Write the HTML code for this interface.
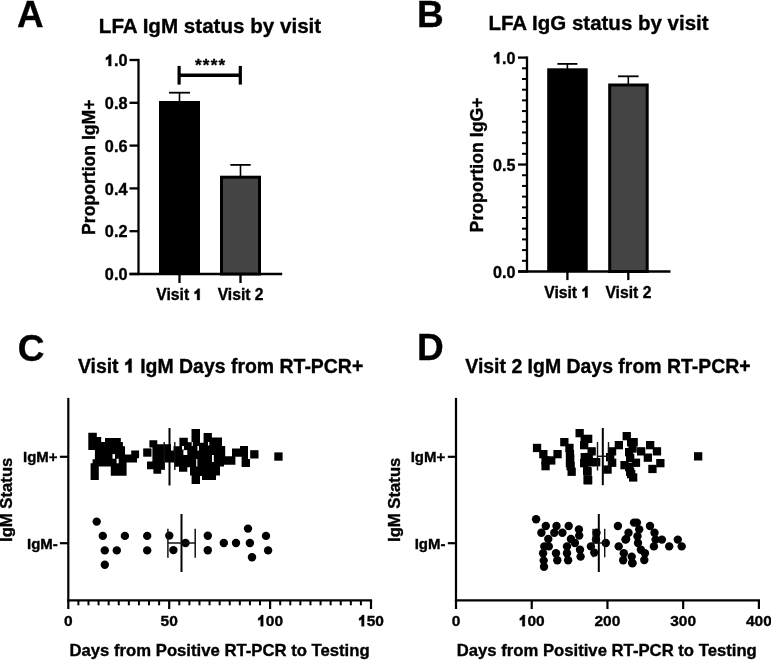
<!DOCTYPE html>
<html><head><meta charset="utf-8"><style>
html,body{margin:0;padding:0;background:#fff;width:771px;height:661px;overflow:hidden}
svg{display:block;filter:grayscale(1)}
text .one{fill:transparent;stroke:none}
text{font-family:"Liberation Sans",sans-serif;font-weight:bold;fill:#000;stroke:#000;stroke-width:0.35px}
</style></head><body>
<svg width="771" height="661" viewBox="0 0 771 661">
<rect width="771" height="661" fill="#fff"/>
<text x="17" y="27" font-size="36.8" text-anchor="start" >A</text>
<text x="417.1" y="27.2" font-size="37" text-anchor="start" >B</text>
<text x="17.8" y="360.7" font-size="37" text-anchor="start" >C</text>
<text x="416.9" y="360.3" font-size="37" text-anchor="start" >D</text>
<text x="98.8" y="32.5" font-size="20.6" text-anchor="start" >LFA IgM status by visit</text>
<text x="488.4" y="30" font-size="20.5" text-anchor="start" >LFA IgG status by visit</text>
<text x="77.9" y="372.6" font-size="19.45" text-anchor="start" >Visit <tspan class="one" id="one1">1</tspan> IgM Days from RT-PCR+</text>
<text x="465.3" y="372.7" font-size="19.45" text-anchor="start" >Visit 2 IgM Days from RT-PCR+</text>
<line x1="138.5" y1="58.9" x2="138.5" y2="275.1" stroke="#000" stroke-width="2.3"/>
<line x1="129.5" y1="274" x2="282.2" y2="274" stroke="#000" stroke-width="2.3"/>
<line x1="129.5" y1="274.0" x2="138.5" y2="274.0" stroke="#000" stroke-width="2.3"/>
<text x="127.5" y="280.1" font-size="16.3" text-anchor="end" >0.0</text>
<line x1="129.5" y1="231.2" x2="138.5" y2="231.2" stroke="#000" stroke-width="2.3"/>
<text x="127.5" y="237.29999999999998" font-size="16.3" text-anchor="end" >0.2</text>
<line x1="129.5" y1="188.4" x2="138.5" y2="188.4" stroke="#000" stroke-width="2.3"/>
<text x="127.5" y="194.5" font-size="16.3" text-anchor="end" >0.4</text>
<line x1="129.5" y1="145.6" x2="138.5" y2="145.6" stroke="#000" stroke-width="2.3"/>
<text x="127.5" y="151.7" font-size="16.3" text-anchor="end" >0.6</text>
<line x1="129.5" y1="102.80000000000001" x2="138.5" y2="102.80000000000001" stroke="#000" stroke-width="2.3"/>
<text x="127.5" y="108.9" font-size="16.3" text-anchor="end" >0.8</text>
<line x1="129.5" y1="60.0" x2="138.5" y2="60.0" stroke="#000" stroke-width="2.3"/>
<text x="127.5" y="66.1" font-size="16.3" text-anchor="end" ><tspan class="one" id="one2">1</tspan>.0</text>
<line x1="179.5" y1="274" x2="179.5" y2="283" stroke="#000" stroke-width="2.3"/>
<line x1="240.5" y1="274" x2="240.5" y2="283" stroke="#000" stroke-width="2.3"/>
<text x="179.3" y="300" font-size="15.7" text-anchor="middle" >Visit <tspan class="one" id="one3">1</tspan></text>
<text x="240.6" y="300" font-size="15.7" text-anchor="middle" >Visit 2</text>
<rect x="159" y="101" width="41" height="173" fill="#000"/>
<rect x="221.5" y="177.2" width="38" height="96.80000000000001" fill="#444" stroke="#000" stroke-width="3"/>
<line x1="179.5" y1="92.7" x2="179.5" y2="101" stroke="#000" stroke-width="1.6"/>
<line x1="169" y1="92.7" x2="190" y2="92.7" stroke="#000" stroke-width="1.8"/>
<line x1="240.5" y1="164.9" x2="240.5" y2="176" stroke="#000" stroke-width="1.6"/>
<line x1="230.3" y1="164.9" x2="250.7" y2="164.9" stroke="#000" stroke-width="1.8"/>
<line x1="179.1" y1="65.9" x2="179.1" y2="84.6" stroke="#000" stroke-width="3.2"/>
<line x1="240.3" y1="65.9" x2="240.3" y2="84.6" stroke="#000" stroke-width="3.2"/>
<line x1="179.1" y1="75.3" x2="240.3" y2="75.3" stroke="#000" stroke-width="3.4"/>
<text x="195" y="71.4" font-size="17" text-anchor="start" letter-spacing="1.2">****</text>
<text transform="translate(95.4,234.9) rotate(-90)" font-size="17.6" text-anchor="start" >Proportion IgM+</text>
<line x1="527" y1="56.5" x2="527" y2="272.6" stroke="#000" stroke-width="2.3"/>
<line x1="518.2" y1="271.5" x2="670.5" y2="271.5" stroke="#000" stroke-width="2.3"/>
<line x1="518" y1="271.5" x2="527" y2="271.5" stroke="#000" stroke-width="2.3"/>
<text x="515.4" y="277.5" font-size="16.1" text-anchor="end" >0.0</text>
<line x1="522" y1="260.805" x2="527" y2="260.805" stroke="#000" stroke-width="2.0"/>
<line x1="522" y1="250.11" x2="527" y2="250.11" stroke="#000" stroke-width="2.0"/>
<line x1="522" y1="239.415" x2="527" y2="239.415" stroke="#000" stroke-width="2.0"/>
<line x1="522" y1="228.72" x2="527" y2="228.72" stroke="#000" stroke-width="2.0"/>
<line x1="522" y1="218.025" x2="527" y2="218.025" stroke="#000" stroke-width="2.0"/>
<line x1="522" y1="207.32999999999998" x2="527" y2="207.32999999999998" stroke="#000" stroke-width="2.0"/>
<line x1="522" y1="196.635" x2="527" y2="196.635" stroke="#000" stroke-width="2.0"/>
<line x1="522" y1="185.94" x2="527" y2="185.94" stroke="#000" stroke-width="2.0"/>
<line x1="522" y1="175.245" x2="527" y2="175.245" stroke="#000" stroke-width="2.0"/>
<line x1="518" y1="164.55" x2="527" y2="164.55" stroke="#000" stroke-width="2.3"/>
<text x="515.4" y="170.55" font-size="16.1" text-anchor="end" >0.5</text>
<line x1="522" y1="153.855" x2="527" y2="153.855" stroke="#000" stroke-width="2.0"/>
<line x1="522" y1="143.16" x2="527" y2="143.16" stroke="#000" stroke-width="2.0"/>
<line x1="522" y1="132.46499999999997" x2="527" y2="132.46499999999997" stroke="#000" stroke-width="2.0"/>
<line x1="522" y1="121.77000000000001" x2="527" y2="121.77000000000001" stroke="#000" stroke-width="2.0"/>
<line x1="522" y1="111.07499999999999" x2="527" y2="111.07499999999999" stroke="#000" stroke-width="2.0"/>
<line x1="522" y1="100.38" x2="527" y2="100.38" stroke="#000" stroke-width="2.0"/>
<line x1="522" y1="89.685" x2="527" y2="89.685" stroke="#000" stroke-width="2.0"/>
<line x1="522" y1="78.98999999999998" x2="527" y2="78.98999999999998" stroke="#000" stroke-width="2.0"/>
<line x1="522" y1="68.29500000000002" x2="527" y2="68.29500000000002" stroke="#000" stroke-width="2.0"/>
<line x1="518" y1="57.599999999999994" x2="527" y2="57.599999999999994" stroke="#000" stroke-width="2.3"/>
<text x="515.4" y="63.599999999999994" font-size="16.1" text-anchor="end" ><tspan class="one" id="one4">1</tspan>.0</text>
<line x1="567.4" y1="271.5" x2="567.4" y2="280.1" stroke="#000" stroke-width="2.3"/>
<line x1="628.3" y1="271.5" x2="628.3" y2="280.1" stroke="#000" stroke-width="2.3"/>
<text x="567.2" y="297.5" font-size="15.7" text-anchor="middle" >Visit <tspan class="one" id="one5">1</tspan></text>
<text x="628.4" y="297.5" font-size="15.7" text-anchor="middle" >Visit 2</text>
<rect x="547.2" y="68.3" width="40.5" height="203.2" fill="#000"/>
<rect x="609.7" y="85" width="37.5" height="186.5" fill="#444" stroke="#000" stroke-width="3"/>
<line x1="567.4" y1="63.9" x2="567.4" y2="69" stroke="#000" stroke-width="1.6"/>
<line x1="557.4" y1="63.9" x2="577.4" y2="63.9" stroke="#000" stroke-width="1.8"/>
<line x1="628.3" y1="76.3" x2="628.3" y2="84" stroke="#000" stroke-width="1.6"/>
<line x1="618" y1="76.3" x2="638.6" y2="76.3" stroke="#000" stroke-width="1.8"/>
<text transform="translate(483.4,232.4) rotate(-90)" font-size="17.66" text-anchor="start" >Proportion IgG+</text>
<line x1="68.3" y1="397.9" x2="68.3" y2="601.5" stroke="#000" stroke-width="2.2"/>
<line x1="67.2" y1="600.4" x2="372.1" y2="600.4" stroke="#000" stroke-width="2.2"/>
<line x1="68.3" y1="600.4" x2="68.3" y2="609" stroke="#000" stroke-width="2.2"/>
<line x1="78.39" y1="600.4" x2="78.39" y2="605.3" stroke="#000" stroke-width="2.0"/>
<line x1="88.47999999999999" y1="600.4" x2="88.47999999999999" y2="605.3" stroke="#000" stroke-width="2.0"/>
<line x1="98.57" y1="600.4" x2="98.57" y2="605.3" stroke="#000" stroke-width="2.0"/>
<line x1="108.66" y1="600.4" x2="108.66" y2="605.3" stroke="#000" stroke-width="2.0"/>
<line x1="118.75" y1="600.4" x2="118.75" y2="605.3" stroke="#000" stroke-width="2.0"/>
<line x1="128.83999999999997" y1="600.4" x2="128.83999999999997" y2="605.3" stroke="#000" stroke-width="2.0"/>
<line x1="138.93" y1="600.4" x2="138.93" y2="605.3" stroke="#000" stroke-width="2.0"/>
<line x1="149.01999999999998" y1="600.4" x2="149.01999999999998" y2="605.3" stroke="#000" stroke-width="2.0"/>
<line x1="159.10999999999999" y1="600.4" x2="159.10999999999999" y2="605.3" stroke="#000" stroke-width="2.0"/>
<line x1="169.2" y1="600.4" x2="169.2" y2="609" stroke="#000" stroke-width="2.2"/>
<line x1="179.29" y1="600.4" x2="179.29" y2="605.3" stroke="#000" stroke-width="2.0"/>
<line x1="189.38" y1="600.4" x2="189.38" y2="605.3" stroke="#000" stroke-width="2.0"/>
<line x1="199.46999999999997" y1="600.4" x2="199.46999999999997" y2="605.3" stroke="#000" stroke-width="2.0"/>
<line x1="209.56" y1="600.4" x2="209.56" y2="605.3" stroke="#000" stroke-width="2.0"/>
<line x1="219.64999999999998" y1="600.4" x2="219.64999999999998" y2="605.3" stroke="#000" stroke-width="2.0"/>
<line x1="229.74" y1="600.4" x2="229.74" y2="605.3" stroke="#000" stroke-width="2.0"/>
<line x1="239.82999999999998" y1="600.4" x2="239.82999999999998" y2="605.3" stroke="#000" stroke-width="2.0"/>
<line x1="249.91999999999996" y1="600.4" x2="249.91999999999996" y2="605.3" stroke="#000" stroke-width="2.0"/>
<line x1="260.01" y1="600.4" x2="260.01" y2="605.3" stroke="#000" stroke-width="2.0"/>
<line x1="270.09999999999997" y1="600.4" x2="270.09999999999997" y2="609" stroke="#000" stroke-width="2.2"/>
<line x1="280.19" y1="600.4" x2="280.19" y2="605.3" stroke="#000" stroke-width="2.0"/>
<line x1="290.28" y1="600.4" x2="290.28" y2="605.3" stroke="#000" stroke-width="2.0"/>
<line x1="300.36999999999995" y1="600.4" x2="300.36999999999995" y2="605.3" stroke="#000" stroke-width="2.0"/>
<line x1="310.46" y1="600.4" x2="310.46" y2="605.3" stroke="#000" stroke-width="2.0"/>
<line x1="320.54999999999995" y1="600.4" x2="320.54999999999995" y2="605.3" stroke="#000" stroke-width="2.0"/>
<line x1="330.64" y1="600.4" x2="330.64" y2="605.3" stroke="#000" stroke-width="2.0"/>
<line x1="340.72999999999996" y1="600.4" x2="340.72999999999996" y2="605.3" stroke="#000" stroke-width="2.0"/>
<line x1="350.82" y1="600.4" x2="350.82" y2="605.3" stroke="#000" stroke-width="2.0"/>
<line x1="360.90999999999997" y1="600.4" x2="360.90999999999997" y2="605.3" stroke="#000" stroke-width="2.0"/>
<line x1="371.0" y1="600.4" x2="371.0" y2="609" stroke="#000" stroke-width="2.2"/>
<text x="68.3" y="626.2" font-size="15.5" text-anchor="middle" >0</text>
<text x="169.2" y="626.2" font-size="15.5" text-anchor="middle" >50</text>
<text x="270.09999999999997" y="626.2" font-size="15.5" text-anchor="middle" ><tspan class="one" id="one6">1</tspan>00</text>
<text x="371.0" y="626.2" font-size="15.5" text-anchor="middle" ><tspan class="one" id="one7">1</tspan>50</text>
<line x1="59.9" y1="456.8" x2="68.3" y2="456.8" stroke="#000" stroke-width="2.2"/>
<line x1="59.9" y1="543.2" x2="68.3" y2="543.2" stroke="#000" stroke-width="2.2"/>
<text x="57.6" y="462" font-size="15" text-anchor="end" >IgM+</text>
<text x="57.8" y="548.5" font-size="15" text-anchor="end" >IgM-</text>
<text transform="translate(12.1,542) rotate(-90)" font-size="16.7" text-anchor="start" >IgM Status</text>
<text x="69.5" y="656" font-size="16.7" text-anchor="start" >Days from Positive RT-PCR to Testing</text>
<line x1="456" y1="397.9" x2="456" y2="601.5" stroke="#000" stroke-width="2.2"/>
<line x1="454.9" y1="600.4" x2="760.0" y2="600.4" stroke="#000" stroke-width="2.2"/>
<line x1="456.0" y1="600.4" x2="456.0" y2="609" stroke="#000" stroke-width="2.2"/>
<text x="456.0" y="626.2" font-size="15.5" text-anchor="middle" >0</text>
<line x1="531.725" y1="600.4" x2="531.725" y2="609" stroke="#000" stroke-width="2.2"/>
<text x="531.725" y="626.2" font-size="15.5" text-anchor="middle" ><tspan class="one" id="one8">1</tspan>00</text>
<line x1="607.45" y1="600.4" x2="607.45" y2="609" stroke="#000" stroke-width="2.2"/>
<text x="607.45" y="626.2" font-size="15.5" text-anchor="middle" >200</text>
<line x1="683.175" y1="600.4" x2="683.175" y2="609" stroke="#000" stroke-width="2.2"/>
<text x="683.175" y="626.2" font-size="15.5" text-anchor="middle" >300</text>
<line x1="758.9" y1="600.4" x2="758.9" y2="609" stroke="#000" stroke-width="2.2"/>
<text x="758.9" y="626.2" font-size="15.5" text-anchor="middle" >400</text>
<line x1="447.8" y1="456.8" x2="456" y2="456.8" stroke="#000" stroke-width="2.2"/>
<line x1="447.8" y1="543.2" x2="456" y2="543.2" stroke="#000" stroke-width="2.2"/>
<text x="445.3" y="462" font-size="15" text-anchor="end" >IgM+</text>
<text x="445.5" y="548.5" font-size="15" text-anchor="end" >IgM-</text>
<text transform="translate(399.9,542) rotate(-90)" font-size="16.7" text-anchor="start" >IgM Status</text>
<text x="456.7" y="656.3" font-size="16.7" text-anchor="start" >Days from Positive RT-PCR to Testing</text>
<g fill="#000"><rect x="143.2" y="448.4" width="8.3" height="8.3"/><rect x="250.2" y="450.2" width="8.3" height="8.3"/><rect x="274.3" y="452.4" width="8.3" height="8.3"/><circle cx="96.7" cy="521.6" r="4.2"/><circle cx="102.8" cy="535.9" r="4.2"/><circle cx="104.8" cy="550.4" r="4.2"/><circle cx="104.8" cy="564.7" r="4.2"/><circle cx="116.8" cy="550.4" r="4.2"/><circle cx="124.9" cy="535.9" r="4.2"/><circle cx="147.2" cy="535.9" r="4.2"/><circle cx="147.2" cy="550.4" r="4.2"/><circle cx="169.3" cy="535.6" r="4.2"/><circle cx="173.4" cy="550.1" r="4.2"/><circle cx="185.5" cy="543.0" r="4.2"/><circle cx="207.8" cy="535.8" r="4.2"/><circle cx="207.8" cy="550.3" r="4.2"/><circle cx="223.8" cy="543.0" r="4.2"/><circle cx="236.0" cy="543.0" r="4.2"/><circle cx="248.0" cy="528.6" r="4.2"/><circle cx="249.9" cy="543.0" r="4.2"/><circle cx="252.0" cy="557.2" r="4.2"/><circle cx="266.0" cy="535.9" r="4.2"/><circle cx="268.1" cy="550.4" r="4.2"/><rect x="532.9" y="443.8" width="8.3" height="8.3"/><rect x="539.2" y="450.0" width="8.3" height="8.3"/><rect x="553.4" y="450.0" width="8.3" height="8.3"/><rect x="547.1" y="456.3" width="8.3" height="8.3"/><rect x="541.4" y="456.3" width="8.3" height="8.3"/><rect x="541.4" y="462.0" width="8.3" height="8.3"/><rect x="560.2" y="438.0" width="8.3" height="8.3"/><rect x="565.3" y="443.8" width="8.3" height="8.3"/><rect x="565.8" y="450.0" width="8.3" height="8.3"/><rect x="565.8" y="459.0" width="8.3" height="8.3"/><rect x="567.5" y="467.6" width="8.3" height="8.3"/><rect x="566.0" y="454.5" width="8.3" height="8.3"/><rect x="566.5" y="462.0" width="8.3" height="8.3"/><rect x="575.5" y="429.0" width="8.3" height="8.3"/><rect x="580.6" y="435.0" width="8.3" height="8.3"/><rect x="580.6" y="453.0" width="8.3" height="8.3"/><rect x="583.4" y="467.6" width="8.3" height="8.3"/><rect x="583.4" y="476.0" width="8.3" height="8.3"/><rect x="584.0" y="434.7" width="8.3" height="8.3"/><rect x="580.0" y="441.0" width="8.3" height="8.3"/><rect x="587.5" y="447.2" width="8.3" height="8.3"/><rect x="584.6" y="452.9" width="8.3" height="8.3"/><rect x="580.0" y="459.0" width="8.3" height="8.3"/><rect x="592.0" y="458.0" width="8.3" height="8.3"/><rect x="587.7" y="458.0" width="8.3" height="8.3"/><rect x="583.0" y="466.5" width="8.3" height="8.3"/><rect x="584.0" y="476.0" width="8.3" height="8.3"/><rect x="614.7" y="441.0" width="8.3" height="8.3"/><rect x="607.9" y="447.2" width="8.3" height="8.3"/><rect x="606.0" y="453.0" width="8.3" height="8.3"/><rect x="608.0" y="458.6" width="8.3" height="8.3"/><rect x="603.4" y="465.4" width="8.3" height="8.3"/><rect x="622.6" y="432.0" width="8.3" height="8.3"/><rect x="627.0" y="438.0" width="8.3" height="8.3"/><rect x="620.4" y="461.0" width="8.3" height="8.3"/><rect x="627.0" y="470.0" width="8.3" height="8.3"/><rect x="629.0" y="473.3" width="8.3" height="8.3"/><rect x="629.5" y="438.0" width="8.3" height="8.3"/><rect x="628.4" y="444.4" width="8.3" height="8.3"/><rect x="637.0" y="447.2" width="8.3" height="8.3"/><rect x="646.0" y="441.0" width="8.3" height="8.3"/><rect x="652.8" y="447.2" width="8.3" height="8.3"/><rect x="643.7" y="453.5" width="8.3" height="8.3"/><rect x="625.0" y="448.0" width="8.3" height="8.3"/><rect x="626.0" y="454.0" width="8.3" height="8.3"/><rect x="631.8" y="458.6" width="8.3" height="8.3"/><rect x="625.0" y="463.0" width="8.3" height="8.3"/><rect x="626.0" y="467.6" width="8.3" height="8.3"/><rect x="656.2" y="459.0" width="8.3" height="8.3"/><rect x="648.3" y="464.8" width="8.3" height="8.3"/><rect x="694.0" y="452.2" width="8.3" height="8.3"/><circle cx="536.1" cy="519.2" r="4.2"/><circle cx="545.8" cy="526.0" r="4.2"/><circle cx="556.5" cy="526.0" r="4.2"/><circle cx="568.7" cy="526.0" r="4.2"/><circle cx="578.9" cy="529.4" r="4.2"/><circle cx="541.4" cy="532.8" r="4.2"/><circle cx="554.3" cy="532.8" r="4.2"/><circle cx="562.4" cy="532.8" r="4.2"/><circle cx="548.3" cy="539.0" r="4.2"/><circle cx="570.9" cy="539.0" r="4.2"/><circle cx="579.2" cy="535.6" r="4.2"/><circle cx="544.3" cy="546.4" r="4.2"/><circle cx="548.8" cy="546.4" r="4.2"/><circle cx="574.9" cy="543.0" r="4.2"/><circle cx="567.0" cy="546.4" r="4.2"/><circle cx="543.1" cy="553.2" r="4.2"/><circle cx="556.0" cy="553.2" r="4.2"/><circle cx="567.0" cy="553.2" r="4.2"/><circle cx="580.0" cy="549.8" r="4.2"/><circle cx="543.7" cy="560.6" r="4.2"/><circle cx="557.3" cy="560.2" r="4.2"/><circle cx="568.1" cy="560.2" r="4.2"/><circle cx="580.6" cy="556.6" r="4.2"/><circle cx="544.0" cy="566.8" r="4.2"/><circle cx="596.5" cy="532.8" r="4.2"/><circle cx="596.0" cy="539.6" r="4.2"/><circle cx="590.9" cy="546.4" r="4.2"/><circle cx="594.3" cy="552.6" r="4.2"/><circle cx="605.8" cy="543.0" r="4.2"/><circle cx="617.9" cy="526.0" r="4.2"/><circle cx="628.5" cy="532.8" r="4.2"/><circle cx="625.5" cy="539.6" r="4.2"/><circle cx="618.7" cy="546.4" r="4.2"/><circle cx="623.8" cy="553.2" r="4.2"/><circle cx="623.2" cy="560.2" r="4.2"/><circle cx="631.7" cy="556.6" r="4.2"/><circle cx="632.3" cy="562.8" r="4.2"/><circle cx="634.0" cy="522.6" r="4.2"/><circle cx="636.9" cy="522.6" r="4.2"/><circle cx="639.2" cy="529.4" r="4.2"/><circle cx="637.5" cy="536.2" r="4.2"/><circle cx="638.0" cy="543.0" r="4.2"/><circle cx="640.9" cy="549.8" r="4.2"/><circle cx="644.9" cy="553.2" r="4.2"/><circle cx="644.3" cy="560.0" r="4.2"/><circle cx="626.1" cy="539.0" r="4.2"/><circle cx="632.4" cy="563.4" r="4.2"/><circle cx="650.0" cy="526.0" r="4.2"/><circle cx="654.5" cy="532.8" r="4.2"/><circle cx="655.6" cy="539.6" r="4.2"/><circle cx="661.9" cy="539.6" r="4.2"/><circle cx="653.9" cy="546.4" r="4.2"/><circle cx="669.2" cy="546.4" r="4.2"/><circle cx="677.8" cy="539.6" r="4.2"/><circle cx="681.7" cy="546.4" r="4.2"/><polygon points="88.3,432.8 96.8,432.8 96.8,437.1 101.2,437.1 101.2,442 105,442 105,437.9 120.8,437.9 120.8,442 122.9,442 122.9,446.2 125,446.2 125,454.5 131.2,454.5 131.2,450.4 139.1,450.4 139.1,458.3 137,458.3 137,462.4 126.6,462.4 126.6,475.8 110.8,475.8 110.8,466.6 109.2,466.6 98.8,466.6 98.8,480 90.6,480 90.6,463.2 92.6,463.2 92.6,459.3 94.9,459.3 94.9,449.9 88.3,449.9"/><polygon points="149.4,440.3 157.3,440.3 157.3,444.2 171,444.2 171,450.6 173.5,450.6 173.5,446.2 179.4,446.2 179.4,437.8 187.8,437.8 187.8,442.2 191.5,442.2 191.5,429 200,429 200,442.7 203.6,442.7 203.6,433 211.9,433 211.9,437.6 222,437.6 222,446 225.2,446 225.2,456.3 232,456.3 232,448.4 240,448.4 240,446 248,446 248,459 250,459 250,467 241.6,467 241.6,456.8 235.4,456.8 235.4,464.8 224,464.8 224,466.5 220,466.5 220,475.6 216,475.6 216,480 202,480 202,476 200,476 200,484 191.6,484 191.6,475.6 190,475.6 190,467.3 187.3,467.3 187.3,471.8 179,471.8 179,466.8 174.5,466.8 174.5,462.4 164.7,462.4 164.7,469.8 161.2,469.8 161.2,473.7 153.4,473.7 153.4,469.3 147,469.3 147,461.4 152.4,461.4 152.4,447.6 149.4,447.6"/></g>
<g fill="#fff"><rect x="183.4" y="450.1" width="3.9" height="4.9"/><rect x="182" y="446" width="2" height="3.6"/><rect x="191.7" y="442" width="1.1" height="4"/><rect x="197.4" y="446" width="1.6" height="4.6"/><rect x="208" y="442" width="1.3" height="3.5"/><rect x="212" y="455" width="1.8" height="7"/><rect x="196.2" y="459" width="1.2" height="7.5"/><rect x="112.5" y="454.1" width="2.5" height="4.6"/><rect x="116.6" y="458.7" width="2.1" height="4.6"/></g>
<line x1="169.5" y1="428" x2="169.5" y2="485.5" stroke="#000" stroke-width="2.0"/>
<line x1="164.2" y1="442" x2="164.2" y2="470" stroke="#111" stroke-width="1.4"/>
<line x1="174.8" y1="442" x2="174.8" y2="470" stroke="#111" stroke-width="1.4"/>
<line x1="181.5" y1="514" x2="181.5" y2="572" stroke="#000" stroke-width="2.0"/>
<line x1="167.9" y1="528.8" x2="167.9" y2="557.7" stroke="#111" stroke-width="1.5"/>
<line x1="195.2" y1="528.8" x2="195.2" y2="557.7" stroke="#111" stroke-width="1.5"/>
<line x1="167.9" y1="543" x2="195.2" y2="543" stroke="#111" stroke-width="1.5"/>
<line x1="602.8" y1="428" x2="602.8" y2="485.2" stroke="#000" stroke-width="2.0"/>
<line x1="597.5" y1="442" x2="597.5" y2="470.5" stroke="#111" stroke-width="1.4"/>
<line x1="608.5" y1="442" x2="608.5" y2="470.5" stroke="#111" stroke-width="1.4"/>
<line x1="597.5" y1="456.3" x2="608.5" y2="456.3" stroke="#111" stroke-width="1.4"/>
<line x1="598.8" y1="514" x2="598.8" y2="572" stroke="#000" stroke-width="2.0"/>
<line x1="593.1" y1="528.8" x2="593.1" y2="557.2" stroke="#111" stroke-width="1.4"/>
<line x1="604.7" y1="528.8" x2="604.7" y2="557.2" stroke="#111" stroke-width="1.4"/>
<line x1="593.1" y1="543" x2="604.7" y2="543" stroke="#111" stroke-width="1.4"/>
<path d="M131.59,358.67 L131.59,372.60 L128.44,372.60 L128.44,363.85 C127.51,364.63 126.34,365.01 125.27,365.31 L125.27,362.49 C127.12,361.71 128.68,360.35 129.26,358.67 Z" fill="#000" stroke="#000" stroke-width="0.35"/>
<path d="M111.20,54.43 L111.20,66.10 L108.56,66.10 L108.56,58.76 C107.78,59.42 106.80,59.74 105.90,59.99 L105.90,57.62 C107.45,56.97 108.76,55.83 109.24,54.43 Z" fill="#000" stroke="#000" stroke-width="0.35"/>
<path d="M199.67,288.76 L199.67,300.00 L197.12,300.00 L197.12,292.94 C196.37,293.56 195.43,293.88 194.56,294.11 L194.56,291.84 C196.05,291.21 197.31,290.11 197.78,288.76 Z" fill="#000" stroke="#000" stroke-width="0.35"/>
<path d="M499.29,52.07 L499.29,63.60 L496.68,63.60 L496.68,56.35 C495.91,57.00 494.94,57.32 494.06,57.56 L494.06,55.23 C495.59,54.58 496.87,53.46 497.36,52.07 Z" fill="#000" stroke="#000" stroke-width="0.35"/>
<path d="M587.57,286.26 L587.57,297.50 L585.02,297.50 L585.02,290.44 C584.27,291.06 583.33,291.38 582.46,291.61 L582.46,289.34 C583.95,288.71 585.21,287.61 585.68,286.26 Z" fill="#000" stroke="#000" stroke-width="0.35"/>
<path d="M263.21,615.10 L263.21,626.20 L260.70,626.20 L260.70,619.23 C259.95,619.85 259.02,620.16 258.17,620.39 L258.17,618.14 C259.64,617.52 260.88,616.44 261.35,615.10 Z" fill="#000" stroke="#000" stroke-width="0.35"/>
<path d="M364.11,615.10 L364.11,626.20 L361.60,626.20 L361.60,619.23 C360.85,619.85 359.92,620.16 359.07,620.39 L359.07,618.14 C360.54,617.52 361.78,616.44 362.25,615.10 Z" fill="#000" stroke="#000" stroke-width="0.35"/>
<path d="M524.83,615.10 L524.83,626.20 L522.32,626.20 L522.32,619.23 C521.58,619.85 520.65,620.16 519.79,620.39 L519.79,618.14 C521.27,617.52 522.51,616.44 522.97,615.10 Z" fill="#000" stroke="#000" stroke-width="0.35"/>
</svg></body></html>
